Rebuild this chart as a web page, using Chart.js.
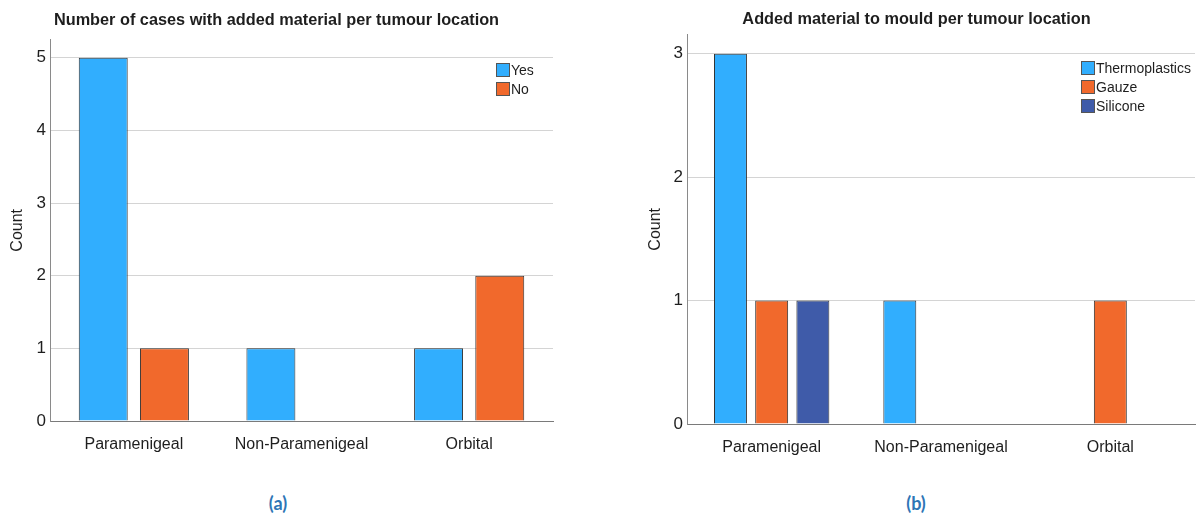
<!DOCTYPE html>
<html>
<head>
<meta charset="utf-8">
<script src="https://cdn.jsdelivr.net/npm/chart.js@4.4.1/dist/chart.umd.min.js"></script>
<style>
  html, body { margin: 0; padding: 0; background: #ffffff; }
  body { width: 1198px; height: 515px; position: relative; overflow: hidden; }
  .wrap { position: absolute; top: 0; height: 470px; }
  #wrapA { left: 0; width: 556px; }
  #wrapB { left: 638px; width: 560px; }
  .cap { position: absolute; top: 492px; width: 80px; text-align: center;
         font-family: Lato, "Open Sans", sans-serif; font-weight: bold; font-size: 18px; color: #2E75B6; }
  #capA { left: 238px; }
  #capB { left: 876px; }
</style>
</head>
<body>
<div class="wrap" id="wrapA"><canvas id="chartA"></canvas></div>
<div class="wrap" id="wrapB"><canvas id="chartB"></canvas></div>
<div class="cap" id="capA">(a)</div>
<div class="cap" id="capB">(b)</div>
<script>
// ---- data ----
const categories = ['Paramenigeal', 'Non-Paramenigeal', 'Orbital'];
const yesCounts = [5, 1, 1];
const noCounts = [1, null, 2];
const thermoplasticsCounts = [3, 1, null];
const gauzeCounts = [1, null, 1];
const siliconeCounts = [1, null, null];
const yTicksA = [0, 1, 2, 3, 4, 5];
const yTicksB = [0, 1, 2, 3];
const titleA = 'Number of cases with added material per tumour location';
const titleB = 'Added material to mould per tumour location';

// ---- styles ----
const BLUE = '#31AEFE';
const ORANGE = '#F1692C';
const NAVY = '#3F5BA9';
const BORDER = '#333333';
const FONT = '"Liberation Sans", Arial, sans-serif';
const TEXT = '#1e1e1e';

const insideLegend = {
  id: 'insideLegend',
  afterDraw(chart, args, opts) {
    const ctx = chart.ctx;
    ctx.save();
    ctx.font = '14px ' + FONT;
    ctx.textBaseline = 'middle';
    ctx.textAlign = 'left';
    chart.data.datasets.forEach((ds, i) => {
      const x = opts.x, y = opts.y + i * opts.row;
      ctx.fillStyle = ds.backgroundColor;
      ctx.fillRect(x, y, 14, 14);
      ctx.strokeStyle = '#555';
      ctx.lineWidth = 1;
      ctx.strokeRect(x + 0.5, y + 0.5, 13, 13);
      ctx.fillStyle = TEXT;
      ctx.fillText(ds.label, x + 15, y + 8);
    });
    ctx.restore();
  }
};

function makeChart(id, title, datasets, yTicks, yMax, yAxisW, xAxisH, titlePad, padRight, legendPos) {
  return new Chart(document.getElementById(id), {
    type: 'bar',
    data: { labels: categories, datasets: datasets.map(d => ({
      label: d.label, data: d.data, backgroundColor: d.color,
      borderColor: BORDER, borderWidth: 1,
      categoryPercentage: 0.73, barPercentage: 0.8
    })) },
    options: {
      responsive: true, maintainAspectRatio: false, animation: false,
      layout: { padding: { left: 0, right: padRight, top: 0, bottom: 0 } },
      plugins: {
        legend: { display: false },
        tooltip: { enabled: false },
        title: { display: true, text: title, color: TEXT,
                 font: { family: FONT, size: 16.3, weight: 'bold', lineHeight: 1.2 },
                 padding: titlePad },
        insideLegend: legendPos
      },
      scales: {
        x: {
          grid: { display: false },
          border: { display: true, color: '#7a7a7a', width: 1 },
          ticks: { color: TEXT, font: { family: FONT, size: 16 }, padding: 6, maxRotation: 0 },
          afterFit(scale) { scale.height = xAxisH; }
        },
        y: {
          min: 0, max: yMax,
          grid: { color: '#d4d4d4', drawTicks: false },
          border: { display: true, color: '#8a8a8a', width: 1 },
          ticks: { color: TEXT, font: { family: FONT, size: 17 }, padding: 4 },
          afterBuildTicks(scale) { scale.ticks = yTicks.map(v => ({ value: v })); },
          title: { display: true, text: 'Count', color: TEXT,
                   font: { family: FONT, size: 16 }, padding: { top: 8, bottom: 0 } },
          afterFit(scale) { scale.width = yAxisW; }
        }
      }
    },
    plugins: [insideLegend]
  });
}

makeChart('chartA', titleA, [
  { label: 'Yes', data: yesCounts, color: BLUE },
  { label: 'No', data: noCounts, color: ORANGE }
], yTicksA, 5.25, 50, 49, { top: 11, bottom: 9 }, 3, { x: 496, y: 63, row: 19 });

makeChart('chartB', titleB, [
  { label: 'Thermoplastics', data: thermoplasticsCounts, color: BLUE },
  { label: 'Gauze', data: gauzeCounts, color: ORANGE },
  { label: 'Silicone', data: siliconeCounts, color: NAVY }
], yTicksB, 3.156, 49, 46, { top: 10, bottom: 5 }, 3, { x: 443, y: 61, row: 19 });
</script>
</body>
</html>
